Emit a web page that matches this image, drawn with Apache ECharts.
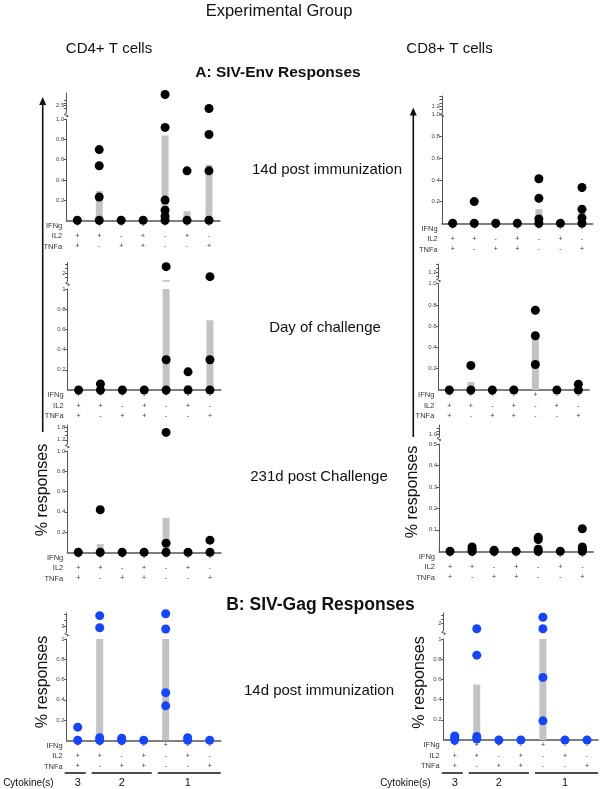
<!DOCTYPE html>
<html><head><meta charset="utf-8">
<script src="https://cdn.jsdelivr.net/npm/echarts@6/dist/echarts.min.js"></script>
<style>html,body{margin:0;padding:0;background:#fff}#c{width:600px;height:789px}</style>
</head><body><div id="c"></div>
<script>
// ---------- categories (cytokine combinations) ----------
const ifngSigns = ['+','+','+','-','+','-','-'];
const il2Signs  = ['+','+','-','+','-','+','-'];
const tnfaSigns = ['+','-','+','+','-','-','+'];
const categories = ifngSigns.map((s,i)=>'IFNg'+s+' IL2'+il2Signs[i]+' TNFa'+tnfaSigns[i]);
const rowNames = ['IFNg','IL2','TNFa'];
const cytokineGroupLabels = ['3','2','1'];
const cytokineGroupCats = [[0,0],[1,3],[4,6]];

// ---------- CD4+ data (bars = group mean, dots = animals) ----------
const cd4EnvD14Bars = [0, 0.29, 0, 0, 0.84, 0.09, 0.55];
const cd4EnvD14Dots = [[0,0],[1,0],[1,0.23],[1,0.54],[1,0.70],[2,0],[3,0],[4,0],[4,0.04],[4,0.10],[4,0.20],[4,0.92],[4,4.7],[5,0],[5,0.49],[6,0],[6,0.49],[6,0.85],[6,1.9]];
const cd4EnvChalBars = [0, 0, 0, 0, 1.6, 0.05, 0.69];
const cd4EnvChalDots = [[0,0],[1,0],[1,0.06],[2,0],[3,0],[4,0],[4,0.30],[4,2.37],[5,0],[5,0.18],[6,0],[6,0.30],[6,1.79]];
const cd4Env231Bars = [0, 0.08, 0, 0, 0.34, 0, 0];
const cd4Env231Dots = [[0,0],[1,0],[1,0.42],[2,0],[3,0],[4,0],[4,0.09],[4,1.55],[5,0],[6,0],[6,0.12]];
const cd4GagD14Bars = [0, 1.7, 0, 0, 1.9, 0, 0];
const cd4GagD14Dots = [[0,0],[0,0.13],[1,0],[1,0.025],[1,2.88],[1,3.88],[2,0],[2,0.02],[3,0],[4,0.34],[4,0.47],[4,2.77],[4,4.04],[5,0],[5,0.025],[6,0]];

// ---------- CD8+ data ----------
const cd8EnvD14Bars = [0, 0, 0, 0, 0.13, 0, 0.10];
const cd8EnvD14Dots = [[0,0],[1,0],[1,0.2],[2,0],[3,0],[4,0],[4,0.04],[4,0.23],[4,0.41],[5,0],[6,0],[6,0.05],[6,0.13],[6,0.33]];
const cd8EnvChalBars = [0, 0.075, 0, 0, 0.51, 0, 0];
const cd8EnvChalDots = [[0,0],[1,0],[1,0.23],[2,0],[3,0],[4,0.24],[4,0.51],[4,0.75],[5,0],[6,0],[6,0.055]];
const cd8Env231Bars = [0, 0.01, 0, 0, 0.03, 0, 0.03];
const cd8Env231Dots = [[0,0],[1,0],[1,0.01],[1,0.02],[2,0],[2,0.005],[3,0],[4,0],[4,0.01],[4,0.055],[4,0.065],[5,0],[6,0],[6,0.01],[6,0.02],[6,0.105]];
const cd8GagD14Bars = [0.02, 0.55, 0, 0, 1.2, 0, 0];
const cd8GagD14Dots = [[0,0],[0,0.02],[0,0.04],[1,0.01],[1,0.035],[1,0.84],[1,1.71],[2,0],[3,0],[4,0.19],[4,0.62],[4,1.71],[4,2.36],[5,0],[6,0]];

// ---------- tick labels ----------
const mainTicksOne = [0.2,0.4,0.6,0.8,1.0];
const mainTicksHalf = [0.1,0.2,0.3,0.4,0.5];
const upL1Labels = [1.5,2.5], upL1Ticks = [1.5,2,2.5,3,3.5];
const upL2Labels = [2], upL2Ticks = [1.75,2,2.25,2.5];
const upL3Labels = [1.2,1.8], upL3Ticks = [1.2,1.4,1.6,1.8];
const upL4Labels = [3], upL4Ticks = [3,3.5,4];
const upR1Labels = [1.2], upR1Ticks = [1.1,1.2,1.3,1.4,1.5];
const upR2Labels = [1.2], upR2Ticks = [1.1,1.2,1.3,1.4];
const upR3Labels = [1.0], upR3Ticks = [1.0,1.1,1.2];
const upR4Labels = [2], upR4Ticks = [2,2.25,2.5];

const BLACK = '#000000', BLUE = '#1446ff';
const f1 = v => v.toFixed(1);
const fInt = v => (v === 1 ? '1' : v.toFixed(1));
const fGen = v => String(v);

const panels = [
  {bars:cd4EnvD14Bars, dots:cd4EnvD14Dots, color:BLACK, mMax:1, mTicks:mainTicksOne, mFmt:f1,
   uMin:1, uMax:5, uLabels:upL1Labels, uTicks:upL1Ticks, uFmt:f1,
   box:{left:66.3, sp:21.95, top:119.3, bottom:220.3, upTop:93, upBottom:113}},
  {bars:cd4EnvChalBars, dots:cd4EnvChalDots, color:BLACK, mMax:1, mTicks:mainTicksOne, mFmt:fInt,
   uMin:1.5, uMax:2.6, uLabels:upL2Labels, uTicks:upL2Ticks, uFmt:fGen,
   box:{left:67.6, sp:21.9, top:289, bottom:390, upTop:262.7, upBottom:281.7}},
  {bars:cd4Env231Bars, dots:cd4Env231Dots, color:BLACK, mMax:1, mTicks:mainTicksOne, mFmt:f1,
   uMin:1.0, uMax:1.9, uLabels:upL3Labels, uTicks:upL3Ticks, uFmt:f1,
   box:{left:67.3, sp:21.95, top:451, bottom:552.3, upTop:425, upBottom:444}},
  {bars:cd4GagD14Bars, dots:cd4GagD14Dots, color:BLUE, mMax:1, mTicks:mainTicksOne, mFmt:fInt,
   uMin:2.5, uMax:4.1, uLabels:upL4Labels, uTicks:upL4Ticks, uFmt:fGen,
   box:{left:66.7, sp:22, top:639, bottom:740.3, upTop:613, upBottom:632.3}},
  {bars:cd8EnvD14Bars, dots:cd8EnvD14Dots, color:BLACK, mMax:1, mTicks:mainTicksOne, mFmt:f1,
   uMin:1.0, uMax:1.5, uLabels:upR1Labels, uTicks:upR1Ticks, uFmt:f1,
   box:{left:441.9, sp:21.55, top:114.7, bottom:223.3, upTop:96, upBottom:113}},
  {bars:cd8EnvChalBars, dots:cd8EnvChalDots, color:BLACK, mMax:1, mTicks:mainTicksOne, mFmt:f1,
   uMin:1.05, uMax:1.4, uLabels:upR2Labels, uTicks:upR2Ticks, uFmt:f1,
   box:{left:438.6, sp:21.5, top:283.7, bottom:390, upTop:264, upBottom:278}},
  {bars:cd8Env231Bars, dots:cd8Env231Dots, color:BLACK, mMax:0.5, mTicks:mainTicksHalf, mFmt:f1,
   uMin:0.9, uMax:1.3, uLabels:upR3Labels, uTicks:upR3Ticks, uFmt:f1,
   box:{left:439, sp:22.05, top:444, bottom:551.3, upTop:425, upBottom:437}},
  {bars:cd8GagD14Bars, dots:cd8GagD14Dots, color:BLUE, mMax:1, mTicks:mainTicksOne, mFmt:fInt,
   uMin:1.6, uMax:2.6, uLabels:upR4Labels, uTicks:upR4Ticks, uFmt:fGen,
   box:{left:443.7, sp:22.05, top:639, bottom:740, upTop:613, upBottom:630.7}}
];

const grid = [], xAxis = [], yAxis = [], series = [], graphic = [];
const AX = '#555';
const FONT = '"Liberation Sans", Arial, sans-serif';

panels.forEach((p) => {
  const b = p.box, w = b.sp * 7;
  const gi = grid.length;
  grid.push({left:b.left, top:b.top, width:w, height:b.bottom - b.top, containLabel:false, outerBoundsMode:'none'});
  grid.push({left:b.left, top:b.upTop, width:w, height:b.upBottom - b.upTop, containLabel:false, outerBoundsMode:'none'});
  xAxis.push({gridIndex:gi, type:'category', data:categories, boundaryGap:true,
    axisLine:{lineStyle:{color:AX, width:1.5}}, axisTick:{show:false},
    axisLabel:{interval:0, fontSize:7, lineHeight:10.5, color:'#333', margin:0, fontFamily:FONT,
      formatter:(v,i)=>ifngSigns[i]+'\n'+il2Signs[i]+'\n'+tnfaSigns[i]}});
  xAxis.push({gridIndex:gi+1, type:'category', data:categories, show:false});
  yAxis.push({gridIndex:gi, type:'value', min:0, max:p.mMax, splitLine:{show:false},
    axisLine:{show:true, lineStyle:{color:AX, width:1}},
    axisTick:{show:true, length:2.5, customValues:p.mTicks, lineStyle:{color:AX}},
    axisLabel:{customValues:p.mTicks, formatter:p.mFmt, fontSize:6, color:'#444', margin:2, fontFamily:FONT}});
  yAxis.push({gridIndex:gi+1, type:'value', min:p.uMin, max:p.uMax, splitLine:{show:false},
    axisLine:{show:true, lineStyle:{color:AX, width:1}},
    axisTick:{show:true, length:2.5, customValues:p.uTicks, lineStyle:{color:AX}},
    axisLabel:{customValues:p.uLabels, formatter:p.uFmt, fontSize:6, color:'#444', margin:2, fontFamily:FONT}});
  series.push({type:'bar', xAxisIndex:gi, yAxisIndex:gi, data:p.bars, barWidth:7, itemStyle:{color:'#c3c3c3'}, silent:true, z:2});
  series.push({type:'bar', xAxisIndex:gi+1, yAxisIndex:gi+1, data:p.bars.map(v => v > p.uMin ? v : '-'), barWidth:7, itemStyle:{color:'#c3c3c3'}, silent:true, z:2});
  series.push({type:'scatter', xAxisIndex:gi, yAxisIndex:gi, data:p.dots.filter(d => d[1] <= p.mMax), symbolSize:9, itemStyle:{color:p.color, opacity:1}, clip:false, z:5, silent:true});
  series.push({type:'scatter', xAxisIndex:gi+1, yAxisIndex:gi+1, data:p.dots.filter(d => d[1] > p.mMax), symbolSize:9, itemStyle:{color:p.color, opacity:1}, clip:false, z:5, silent:true});
  // row headers
  rowNames.forEach((r, k) => {
    graphic.push({type:'text', x:b.left + b.sp/2 - 15, y:b.bottom + 5.4 + 10.5*k,
      style:{text:r, fontSize:7.5, fill:'#333', align:'right', verticalAlign:'middle', fontFamily:FONT}});
  });
  // axis break mark
  const x0 = b.left, yb = b.upBottom;
  graphic.push({type:'polyline', shape:{points:[[x0, yb],[x0-2, yb+1.5],[x0+2, yb+3],[x0, yb+4]]},
    style:{stroke:AX, lineWidth:1, fill:null}});
});

// cytokine group bars under the Gag panels
[panels[3], panels[7]].forEach((p) => {
  const b = p.box;
  cytokineGroupCats.forEach((g, k) => {
    const x1 = b.left + b.sp*g[0] + (g[0] === 0 ? -2 : 3);
    const x2 = b.left + b.sp*(g[1]+1) - (g[1] === 6 ? 0 : 3);
    graphic.push({type:'line', shape:{x1:x1, y1:773, x2:x2, y2:773}, style:{stroke:'#111', lineWidth:1.5}});
    graphic.push({type:'text', x:b.left + b.sp*((g[0]+g[1])/2 + 0.5), y:783,
      style:{text:cytokineGroupLabels[k], fontSize:11, fill:'#111', align:'center', verticalAlign:'middle', fontFamily:FONT}});
  });
  graphic.push({type:'text', x:b.left - 13, y:783,
    style:{text:'Cytokine(s)', fontSize:10, fill:'#111', align:'right', verticalAlign:'middle', fontFamily:FONT}});
});

function txt(t, x, y, size, bold) {
  graphic.push({type:'text', x:x, y:y, style:{text:t, fontSize:size, fontWeight:bold ? 'bold' : 'normal', fill:'#111', align:'center', verticalAlign:'middle', fontFamily:FONT}});
}
txt('Experimental Group', 279, 11, 16.5);
txt('CD4+ T cells', 109, 49, 15);
txt('CD8+ T cells', 449.5, 49, 15);
txt('A: SIV-Env Responses', 278, 73, 15.5, true);
txt('B: SIV-Gag Responses', 320.5, 605, 17.5, true);
txt('14d post immunization', 327, 170, 15);
txt('Day of challenge', 325, 328, 15);
txt('231d post Challenge', 319, 477, 15);
txt('14d post immunization', 319, 691, 15);

function vtxt(x, y) {
  graphic.push({type:'text', x:x, y:y, rotation:Math.PI/2,
    style:{text:'% responses', fontSize:16, fill:'#111', align:'center', verticalAlign:'middle', fontFamily:FONT}});
}
vtxt(42.5, 490); vtxt(43, 682); vtxt(413, 492); vtxt(420, 682.5);

function arrow(x, yTip, yEnd) {
  graphic.push({type:'line', shape:{x1:x, y1:yTip + 6, x2:x, y2:yEnd}, style:{stroke:'#111', lineWidth:1.6}});
  graphic.push({type:'polygon', shape:{points:[[x, yTip],[x-3.5, yTip+8],[x+3.5, yTip+8]]}, style:{fill:'#111'}});
}
arrow(42.7, 97, 432);
arrow(413.3, 107.5, 437);

const chart = echarts.init(document.getElementById('c'), null, {renderer:'canvas'});
chart.setOption({
  animation:false,
  backgroundColor:'#ffffff',
  textStyle:{fontFamily:FONT},
  grid:grid, xAxis:xAxis, yAxis:yAxis, series:series, graphic:graphic
});
</script></body></html>
